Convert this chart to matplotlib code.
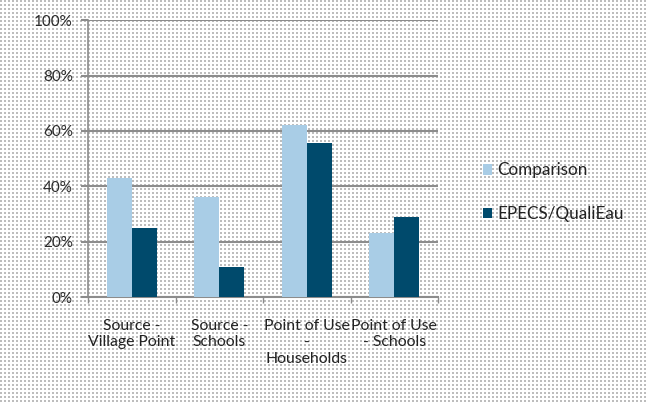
import matplotlib.pyplot as plt
import numpy as np

categories = ['Source -\nVillage Point', 'Source -\nSchools', 'Point of Use\n-\nHouseholds', 'Point of Use\n- Schools']
comparison = [43, 36, 62, 23]
epecs = [25, 11, 55.5, 29]
yticks = [0, 20, 40, 60, 80, 100]

plt.rcParams['font.family'] = ['Lato', 'DejaVu Sans']

W, H = 648, 403
fig = plt.figure(figsize=(W / 100, H / 100), dpi=100)

# Фон в точку: серые точки через каждые 4 пикселя
bg = fig.add_axes([0, 0, 1, 1], zorder=-10)
pat = np.ones((H, W))
yy, xx = np.mgrid[0:H, 0:W]
pat[((yy % 4) < 2) & ((xx % 4) < 2)] = 0.74
bg.imshow(pat, cmap='gray', vmin=0, vmax=1, aspect='auto', interpolation='nearest')
bg.axis('off')

ax = fig.add_axes([0.136, 0.263, 0.54, 0.687])
ax.set_facecolor('none')

x = np.arange(len(categories))
w = 0.285
ax.bar(x - w / 2, comparison, w, color='#a9cde6', label='Comparison', zorder=3)
ax.bar(x + w / 2, epecs, w, color='#004a6c', label='EPECS/QualiEau', zorder=3)

ax.set_xlim(-0.5, len(categories) - 0.5)
ax.set_ylim(0, 100)
ax.set_yticks(yticks)
ax.set_yticklabels([f'{v}%' for v in yticks], fontsize=11, color='#2a2a2a')
ax.yaxis.grid(True, color='#8c8c8c', linewidth=1.5, zorder=1)

ax.set_xticks(x)
ax.set_xticklabels(categories, fontsize=11.3, color='#222222', linespacing=1.2)
ax.set_xticks(np.arange(len(categories) + 1) - 0.5, minor=True)
ax.tick_params(axis='x', which='major', length=0, pad=16)
ax.tick_params(axis='x', which='minor', length=4, color='#8c8c8c', width=1)
ax.tick_params(axis='y', length=5, color='#8c8c8c', width=1.5, pad=6)

for s in ['top', 'right']:
    ax.spines[s].set_visible(False)
ax.spines['left'].set_color('#8c8c8c')
ax.spines['left'].set_linewidth(1.2)
ax.spines['bottom'].set_color('#8c8c8c')
ax.spines['bottom'].set_linewidth(1.5)

leg = fig.legend(loc='upper left', bbox_to_anchor=(0.745, 0.597), frameon=False,
                 borderaxespad=0, borderpad=0,
                 fontsize=12.3, handlelength=0.55, handleheight=0.55, handletextpad=0.3,
                 labelspacing=1.6)
for t in leg.get_texts():
    t.set_color('#222222')

fig.savefig('out.png', dpi=100)
